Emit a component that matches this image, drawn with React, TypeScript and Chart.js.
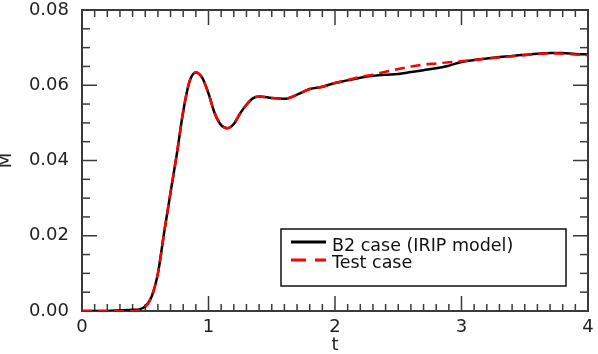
import React, { useEffect, useRef } from "react";
import { Chart, registerables } from "chart.js";

Chart.register(...registerables);

const T = [0, 0.1, 0.2, 0.3, 0.4, 0.45, 0.5, 0.55, 0.6, 0.65, 0.7, 0.75, 0.8, 0.85, 0.9, 0.95, 1.0, 1.05, 1.1, 1.15, 1.2, 1.25, 1.3, 1.35, 1.4, 1.5, 1.6, 1.7, 1.8, 1.9, 2.0, 2.1, 2.2, 2.3, 2.4, 2.5, 2.6, 2.7, 2.8, 2.9, 3.0, 3.1, 3.2, 3.3, 3.4, 3.5, 3.6, 3.7, 3.8, 3.9, 4.0];

const B2 = [0, 0, 0, 0.0002, 0.0003, 0.0004, 0.0012, 0.0038, 0.010, 0.021, 0.0315, 0.0418, 0.053, 0.061, 0.0634, 0.062, 0.0578, 0.0525, 0.0494, 0.0486, 0.0497, 0.0525, 0.0548, 0.0565, 0.057, 0.0566, 0.0564, 0.0575, 0.059, 0.0596, 0.0606, 0.0613, 0.062, 0.0625, 0.0628, 0.063, 0.0635, 0.064, 0.0645, 0.0652, 0.0662, 0.0667, 0.0671, 0.0675, 0.0678, 0.0681, 0.0684, 0.0686, 0.0686, 0.0683, 0.0682];

const TEST = [0, 0, 0, 0, 0, 0.0002, 0.0011, 0.0038, 0.010, 0.021, 0.0315, 0.0418, 0.053, 0.061, 0.0634, 0.062, 0.0578, 0.0525, 0.0494, 0.0486, 0.0497, 0.0525, 0.0548, 0.0565, 0.057, 0.0566, 0.0564, 0.0575, 0.059, 0.0596, 0.0606, 0.0614, 0.0622, 0.0628, 0.0636, 0.0643, 0.065, 0.0655, 0.0658, 0.0661, 0.0664, 0.0667, 0.0671, 0.0674, 0.0677, 0.068, 0.0683, 0.0685, 0.0684, 0.0682, 0.068];

const SERIES_LABELS = ["B2 case (IRIP model)", "Test case"];
const X_TITLE = "t";
const Y_TITLE = "M";
const X_MIN = 0;
const X_MAX = 4;
const X_STEP = 1;
const X_MINOR = 0.1;
const Y_MIN = 0;
const Y_MAX = 0.08;
const Y_STEP = 0.02;
const Y_MINOR = 0.005;

const FONT = "'DejaVu Sans', sans-serif";

const framePlugin = {
  id: "frame",
  beforeDatasetsDraw(chart: any) {
    const { ctx, chartArea } = chart;
    const { left, right, top, bottom } = chartArea;
    const x = chart.scales.x;
    const y = chart.scales.y;
    ctx.save();
    ctx.strokeStyle = "#3a3a3a";
    ctx.lineWidth = 1.5;
    const seg = (x1: number, y1: number, x2: number, y2: number) => {
      ctx.beginPath();
      ctx.moveTo(x1, y1);
      ctx.lineTo(x2, y2);
      ctx.stroke();
    };
    const nx = Math.round((X_MAX - X_MIN) / X_MINOR);
    const perX = Math.round(X_STEP / X_MINOR);
    for (let i = 0; i <= nx; i++) {
      const px = x.getPixelForValue(X_MIN + i * X_MINOR);
      const len = i % perX === 0 ? 15 : 7;
      seg(px, bottom, px, bottom - len);
      seg(px, top, px, top + len);
    }
    const ny = Math.round((Y_MAX - Y_MIN) / Y_MINOR);
    const perY = Math.round(Y_STEP / Y_MINOR);
    for (let i = 0; i <= ny; i++) {
      const py = y.getPixelForValue(Y_MIN + i * Y_MINOR);
      const len = i % perY === 0 ? 15 : 8;
      seg(left, py, left + len, py);
      seg(right, py, right - len, py);
    }
    ctx.lineWidth = 2;
    ctx.strokeRect(left, top, right - left, bottom - top);
    ctx.restore();
  },
};

const legendPlugin = {
  id: "boxLegend",
  afterDraw(chart: any) {
    const { ctx } = chart;
    const bx = 281, by = 229, bw = 285, bh = 57;
    ctx.save();
    ctx.fillStyle = "#ffffff";
    ctx.fillRect(bx, by, bw, bh);
    ctx.strokeStyle = "#111";
    ctx.lineWidth = 1.5;
    ctx.strokeRect(bx, by, bw, bh);
    const ds = chart.data.datasets;
    const rows = [242, 260];
    ds.forEach((d: any, i: number) => {
      const yy = rows[i];
      ctx.strokeStyle = d.borderColor;
      ctx.lineWidth = 3;
      ctx.setLineDash(i === 1 ? [15, 9] : []);
      ctx.beginPath();
      ctx.moveTo(291, yy);
      ctx.lineTo(326, yy);
      ctx.stroke();
      ctx.setLineDash([]);
      ctx.fillStyle = "#111";
      ctx.font = `17.5px ${FONT}`;
      ctx.textBaseline = "middle";
      ctx.textAlign = "left";
      ctx.fillText(d.label, 332, yy + (i === 0 ? 4 : 3));
    });
    ctx.restore();
  },
};

export default function App() {
  const ref = useRef<HTMLCanvasElement | null>(null);
  useEffect(() => {
    if (!ref.current) return;
    const chart = new Chart(ref.current, {
      type: "line",
      data: {
        datasets: [
          {
            label: SERIES_LABELS[0],
            data: T.map((t, i) => ({ x: t, y: B2[i] })),
            borderColor: "#000000",
            borderWidth: 2.5,
            pointRadius: 0,
            cubicInterpolationMode: "monotone",
            fill: false,
            order: 2,
          },
          {
            label: SERIES_LABELS[1],
            data: T.map((t, i) => ({ x: t, y: TEST[i] })),
            borderColor: "#ff0000",
            borderWidth: 2.5,
            borderDash: [10, 6],
            pointRadius: 0,
            cubicInterpolationMode: "monotone",
            fill: false,
            order: 1,
          },
        ],
      },
      options: {
        animation: false,
        responsive: false,
        layout: { padding: { left: 0, top: 10, right: 10, bottom: 0 } },
        plugins: { legend: { display: false }, tooltip: { enabled: false } },
        scales: {
          x: {
            type: "linear",
            min: X_MIN,
            max: X_MAX,
            grid: { display: false, drawTicks: false },
            border: { display: false },
            ticks: {
              stepSize: X_STEP,
              padding: 6,
              color: "#222",
              font: { family: FONT, size: 18 },
            },
            title: {
              display: true,
              text: X_TITLE,
              color: "#222",
              font: { family: FONT, size: 18, lineHeight: 1 },
              padding: { top: 2, bottom: 0 },
            },
            afterFit(scale: any) {
              scale.height = 43;
              scale.paddingLeft = 0;
              scale.paddingRight = 0;
            },
          },
          y: {
            type: "linear",
            min: Y_MIN,
            max: Y_MAX,
            grid: { display: false, drawTicks: false },
            border: { display: false },
            ticks: {
              stepSize: Y_STEP,
              padding: 13,
              color: "#222",
              font: { family: FONT, size: 18 },
              callback: (v: any) => Number(v).toFixed(2),
            },
            title: {
              display: true,
              text: Y_TITLE,
              color: "#222",
              font: { family: FONT, size: 18, lineHeight: 1 },
              padding: { top: -3, bottom: 0 },
            },
            afterFit(scale: any) {
              scale.width = 82;
              scale.paddingTop = 0;
              scale.paddingBottom = 0;
            },
          },
        },
      },
      plugins: [framePlugin, legendPlugin],
    });
    return () => chart.destroy();
  }, []);
  return (
    <div style={{ position: "absolute", left: 0, top: 0, width: 598, height: 354, background: "#fff" }}>
      <canvas ref={ref} width={598} height={354} style={{ display: "block" }} />
    </div>
  );
}
